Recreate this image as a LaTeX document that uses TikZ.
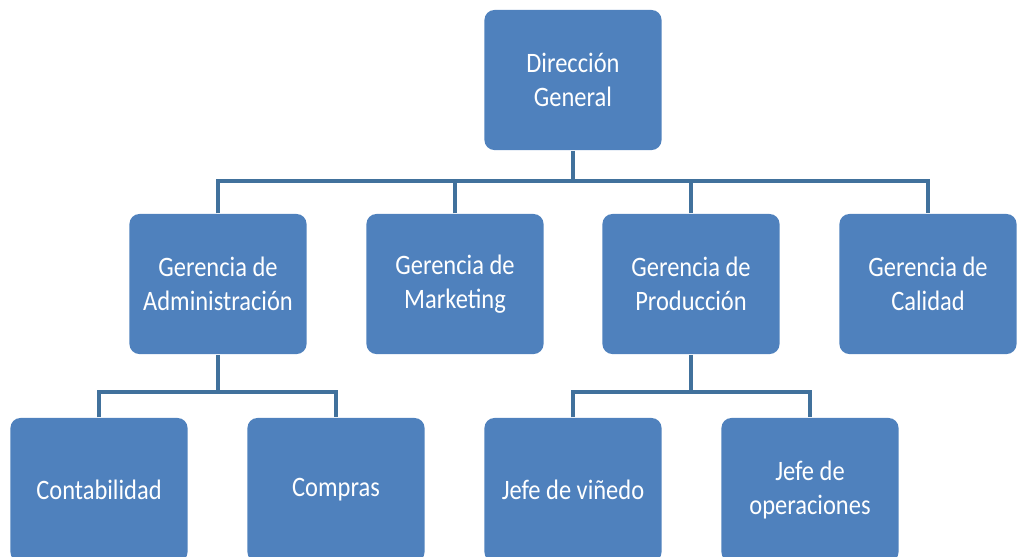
\documentclass[tikz,border=0pt]{standalone}
\usepackage{fontspec}
\setmainfont{Carlito}[FakeStretch=0.87]
\usepackage{tikz}

\definecolor{boxblue}{HTML}{4F81BD}
\definecolor{lineblue}{HTML}{41719C}

\begin{document}
\begin{tikzpicture}[
    x = 0.01cm,
    y = -0.01cm,
    unit/.style = {fill = boxblue,
      rounded corners = 1mm,
      text = white,
      align = center,
      font = \fontsize{8}{9.8}\selectfont,
      minimum width = 1.77cm,
      minimum height = 1.40cm},
    leaf/.style = {unit, minimum height = 1.44cm},
    link/.style = {lineblue, line width = 1.4pt},
    ]

    \useasboundingbox (0, 0) rectangle (1017, 556);

    \node at (573, 80)
    [unit, name = D_gen] {Dirección\\General};

    \node at (218, 284)
    [unit, name = G_adm] {Gerencia de\\Administración};
    \node at (455, 284)
    [unit, name = G_mkt] {Gerencia de\\Marketing};
    \node at (691, 284)
    [unit, name = G_prod] {Gerencia de\\Producción};
    \node at (928, 284)
    [unit, name = G_cal] {Gerencia de\\Calidad};

    % bottom row runs past the lower edge
    \node at (99, 490)
    [leaf, name = J_cont] {Contabilidad};
    \node at (336, 490)
    [leaf, name = J_comp] {Compras};
    \node at (573, 490)
    [leaf, name = J_vin] {Jefe de viñedo};
    \node at (810, 490)
    [leaf, name = J_ops] {Jefe de\\operaciones};

    \coordinate (bus_top) at (573, 181);
    \coordinate (bus_adm) at (218, 392);
    \coordinate (bus_prod) at (691, 392);

    \draw [link] (D_gen.south) -- (bus_top);
    \draw [link] (G_adm.north) |- (bus_top) -| (G_cal.north);
    \draw [link] (G_mkt.north) -- (G_mkt.north |- bus_top);
    \draw [link] (G_prod.north) -- (G_prod.north |- bus_top);

    \draw [link] (G_adm.south) -- (bus_adm);
    \draw [link] (J_cont.north) |- (bus_adm) -| (J_comp.north);

    \draw [link] (G_prod.south) -- (bus_prod);
    \draw [link] (J_vin.north) |- (bus_prod) -| (J_ops.north);
  \end{tikzpicture}
\end{document}
